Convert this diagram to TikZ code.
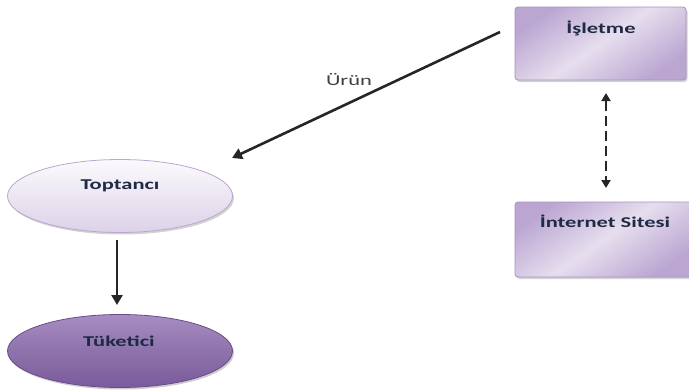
\documentclass[tikz,border=0pt]{standalone}
\usepackage{fontspec}
\setmainfont{Carlito}
\usetikzlibrary{arrows.meta,shapes.geometric,shadows}
\definecolor{boxlight}{HTML}{E6DEEE}
\definecolor{boxdark}{HTML}{BBA6D2}
\definecolor{boxedge}{HTML}{A890C2}
\definecolor{ovlight}{HTML}{FBFAFD}
\definecolor{ovdark}{HTML}{DCD2E8}
\definecolor{ovedge}{HTML}{B9A7CF}
\definecolor{deeplight}{HTML}{A88CC4}
\definecolor{deepdark}{HTML}{7A5A9C}
\definecolor{deepedge}{HTML}{6A4C8A}
\definecolor{labeltext}{HTML}{1F2A44}
\newcommand{\widetext}[1]{\scalebox{1.5}[1]{#1}}
\tikzset{
  sitebox/.style={draw=boxedge, line width=0.8pt, rounded corners=3pt,
    left color=boxdark, right color=boxdark, middle color=boxlight,
    shading angle=35,
    drop shadow={shadow xshift=1.5pt, shadow yshift=-2pt, opacity=0.35}},
  lightoval/.style={ellipse, draw=ovedge, line width=0.8pt,
    top color=ovlight, bottom color=ovdark,
    drop shadow={shadow xshift=1.5pt, shadow yshift=-2pt, opacity=0.35}},
  deepoval/.style={ellipse, draw=deepedge, line width=0.8pt,
    top color=deeplight, bottom color=deepdark, middle color=deepdark!85!white,
    drop shadow={shadow xshift=1.5pt, shadow yshift=-2pt, opacity=0.4}},
  lbl/.style={font=\bfseries\fontsize{15}{17}\selectfont, text=labeltext},
  flow/.style={-{Triangle[length=10pt,width=11pt]}, line width=2.6pt, black!85},
  twoway/.style={{Triangle[length=8pt,width=9pt]}-{Triangle[length=8pt,width=9pt]},
    line width=2.6pt, black!85, dash pattern=on 10pt off 5pt}
}
\begin{document}
\begin{tikzpicture}[x=1pt,y=-1pt]
\useasboundingbox (0,0) rectangle (689,391);
% company and web site boxes
\draw[sitebox] (515,7) rectangle (686,80);
\draw[sitebox] (515,202) rectangle (692,277);
\node[lbl] (isletme) at (601,28) {\widetext{İşletme}};
\node[lbl] (site) at (605,221) {\widetext{İnternet Sitesi}};
\coordinate (isTop) at (606,93);
\coordinate (siteTop) at (606,188);
% wholesaler and consumer ovals
\node[lightoval, minimum width=225pt, minimum height=73pt] (toptanci) at (120,196) {};
\node[deepoval, minimum width=225pt, minimum height=73pt] (tuketici) at (120,351) {};
\node[lbl] at (120,186) {\widetext{Toptancı}};
\node[lbl] at (119,341) {\widetext{Tüketici}};
% connectors
\coordinate (urunStart) at (500,32);
\coordinate (urunEnd) at (232,158);
\coordinate (downStart) at (117,240);
\coordinate (downEnd) at (117,305);
\draw[flow] (urunStart) -- (urunEnd);
\draw[flow] (downStart) -- (downEnd);
\draw[twoway] (isTop) -- (siteTop);
\node[font=\fontsize{15}{17}\selectfont, text=black!75] (urun) at (349,80) {\widetext{Ürün}};
\end{tikzpicture}
\end{document}
